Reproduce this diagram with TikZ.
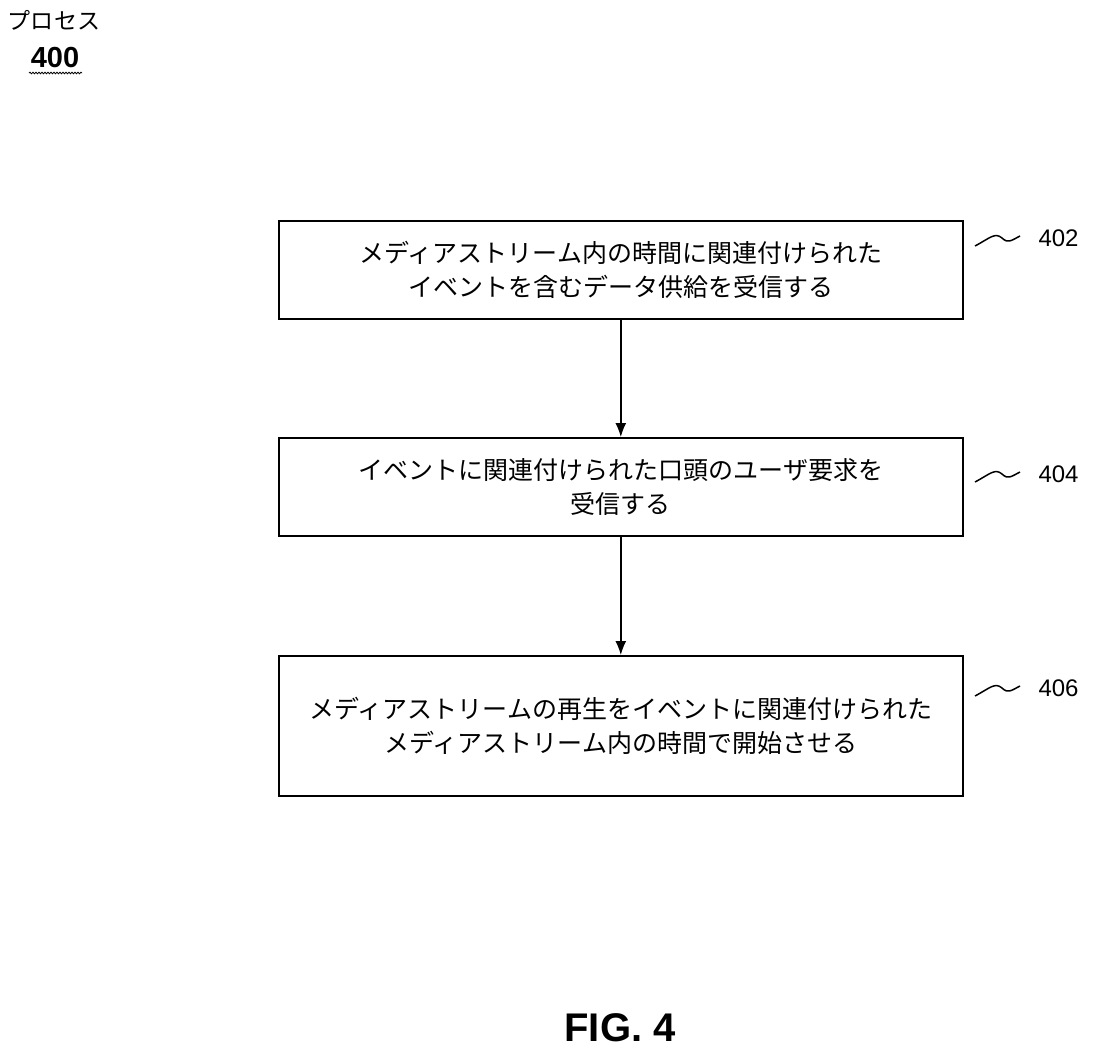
\documentclass[tikz,border=0pt]{standalone}
\usepackage{fontspec}
\setmainfont{Noto Sans CJK JP}
\newfontfamily\lat{Liberation Sans}
\usetikzlibrary{decorations.pathmorphing,arrows.meta}
\begin{document}
\begin{tikzpicture}[x=1pt,y=-1pt,
  box/.style={draw,line width=1.6pt,minimum width=684pt,anchor=north west,inner sep=0pt,align=center,font=\fontsize{25}{34}\selectfont},
  arr/.style={line width=1.5pt,-{Latex[length=14pt,width=11pt]}},
  sq/.style={line width=1.5pt},
  lab/.style={font=\lat\fontsize{24}{28}\selectfont,anchor=west}]
\useasboundingbox (0,0) rectangle (1102,1055);
\node[font=\fontsize{23}{26}\selectfont] (p) at (54,20) {プロセス};
\node[font=\lat\bfseries\fontsize{29}{32}\selectfont] (n) at (55,58) {400};
\draw[line width=0.8pt,decorate,decoration={snake,amplitude=0.8pt,segment length=3pt}] (29,73) -- (82,73);
\node[box,minimum height=98pt] (b1) at (278,220) {メディアストリーム内の時間に関連付けられた\\イベントを含むデータ供給を受信する};
\node[box,minimum height=98pt] (b2) at (278,437) {イベントに関連付けられた口頭のユーザ要求を\\受信する};
\node[box,minimum height=140pt] (b3) at (278,655) {メディアストリームの再生をイベントに関連付けられた\\メディアストリーム内の時間で開始させる};
\draw[arr] (b1.south) -- (b2.north);
\draw[arr] (b2.south) -- (b3.north);
\node[lab] (l1) at (1035,238) {402};
\node[lab] (l2) at (1035,474) {404};
\node[lab] (l3) at (1035,688) {406};
\draw[sq] (975,246) .. controls (990,238) and (995,232) .. (1002,238) .. controls (1008,244) and (1012,240) .. (1020,236);
\draw[sq] (975,482) .. controls (990,474) and (995,468) .. (1002,474) .. controls (1008,480) and (1012,476) .. (1020,472);
\draw[sq] (975,696) .. controls (990,688) and (995,682) .. (1002,688) .. controls (1008,694) and (1012,690) .. (1020,686);
\node[font=\lat\bfseries\fontsize{40}{44}\selectfont] (f) at (620,1028) {FIG. 4};
\end{tikzpicture}
\end{document}
